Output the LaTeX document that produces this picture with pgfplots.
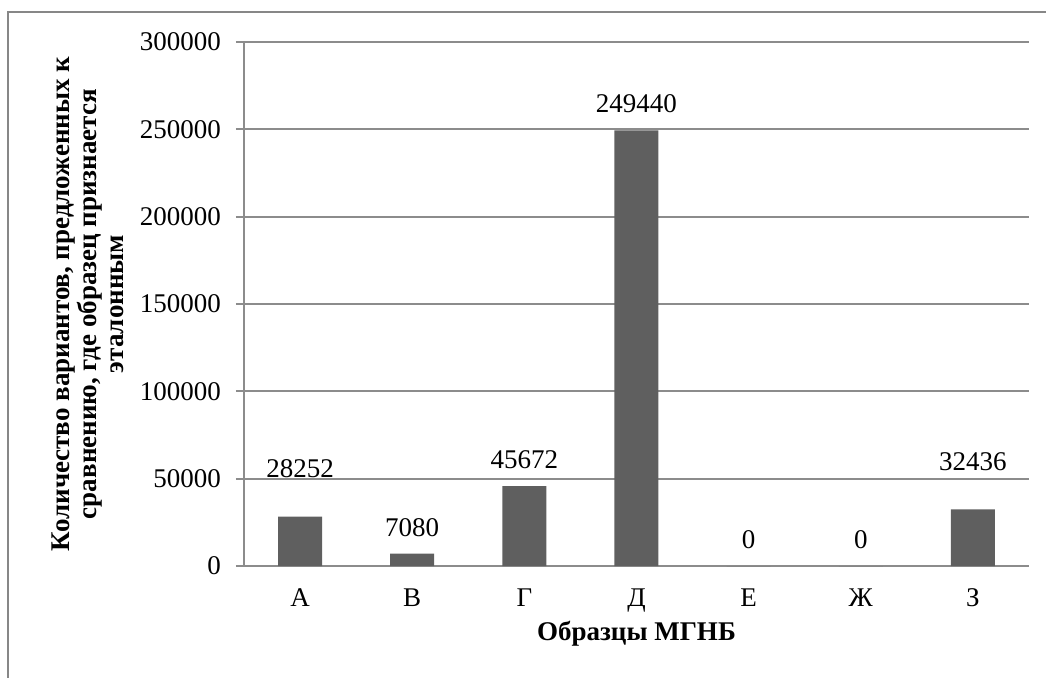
\documentclass[border=0pt]{standalone}
\usepackage{pgfplots}
\usepackage{pgfplotstable}
\pgfplotsset{compat=1.18}
\usepackage{fontspec}
\setmainfont{Liberation Serif}

\definecolor{barfill}{HTML}{5F5F5F}
\definecolor{axisgray}{HTML}{8C8C8C}
\definecolor{framegray}{HTML}{878787}

% x: category index, y: count, dy: extra lift of the value label (pt)
\pgfplotstableread{
x y dy
0 28252 11
1 7080 0
2 45672 0
3 249440 0
4 0 0
5 0 0
6 32436 11
}\counts

\newcommand{\chartfont}{\fontsize{13.5}{16}\selectfont}

\begin{document}
\begin{tikzpicture}
\useasboundingbox (-122pt,-55.5pt) rectangle (401pt,283pt);
\draw[framegray, line width=0.9pt] (-118pt,-60pt) -- (-118pt,277pt) -- (410pt,277pt);
\begin{axis}[
  at={(0,0)}, anchor=south west,
  scale only axis,
  width=392.5pt, height=262pt,
  xmin=-0.5, xmax=6.5,
  ymin=0, ymax=300000,
  scaled y ticks=false,
  ytick={0,50000,100000,150000,200000,250000,300000},
  yticklabels={0,50000,100000,150000,200000,250000,300000},
  axis x line*=bottom, axis y line*=left,
  axis line style={axisgray, line width=1pt, -},
  tick style={axisgray, line width=1pt},
  tick align=outside,
  major tick length=4pt,
  ymajorgrids,
  grid style={axisgray, line width=1pt},
  xtick={0,...,6},
  xticklabels={А,В,Г,Д,Е,Ж,З},
  xtick style={draw=none},
  extra x ticks={-0.5,0.5,...,6.5},
  extra x tick labels={},
  extra x tick style={xtick style={axisgray, line width=1pt}, major tick length=4pt, grid=none},
  ticklabel style={font=\chartfont, text=black},
  yticklabel style={xshift=-4pt},
  xticklabel style={yshift=-4pt},
  xlabel={Образцы МГНБ},
  xlabel style={font=\bfseries\chartfont, at={(axis description cs:0.5,-0.1298)}, anchor=center},
  ylabel={Количество вариантов, предложенных к\\[-1pt]сравнению, где образец признается\\[-1pt]эталонным},
  ylabel style={font=\bfseries\fontsize{13.5}{14.5}\selectfont, align=center,
    at={(axis description cs:-0.1987,0.5)}, anchor=center},
  ybar, bar width=22pt,
  point meta=explicit symbolic,
  nodes near coords,
  visualization depends on={\thisrow{dy} \as \labeldy},
  nodes near coords style={font=\chartfont, text=black, yshift=5pt+\labeldy pt},
]
\addplot[fill=barfill, draw=none] table[x=x, y=y, meta=y] {\counts};
\end{axis}
\end{tikzpicture}
\end{document}
